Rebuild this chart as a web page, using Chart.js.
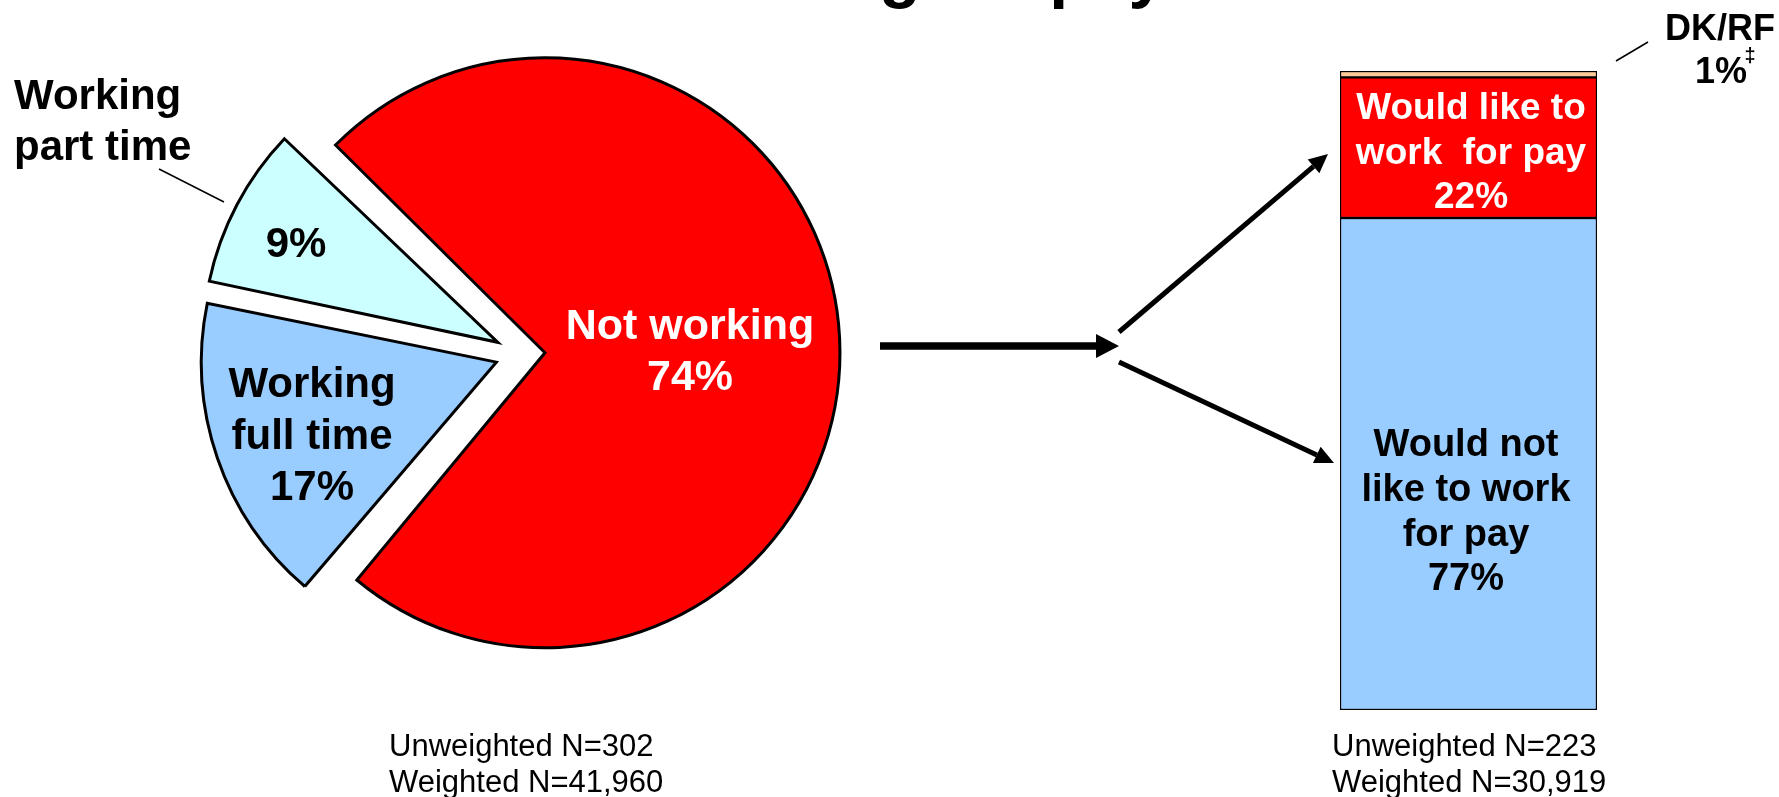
<!DOCTYPE html>
<html>
<head>
<meta charset="utf-8">
<script src="https://cdn.jsdelivr.net/npm/chart.js@4.4.1/dist/chart.umd.min.js"></script>
<style>
  html, body { margin: 0; padding: 0; background: #fff; }
  #wrap { position: relative; width: 1779px; height: 797px; overflow: hidden; }
  canvas { position: absolute; left: 0; top: 0; }
</style>
</head>
<body>
<div id="wrap">
  <canvas id="pie-chart" width="1779" height="797"></canvas>
  <canvas id="bar-chart" width="1779" height="797"></canvas>
</div>
<script>
// dữ liệu biểu đồ tròn
const pieLabels = ["Not working", "Working full time", "Working part time"];
const pieValues = [74, 17, 9];
const pieColors = ["#FF0000", "#99CCFF", "#CCFFFF"];

// dữ liệu cột chồng
const barLabels = ["Would not like to work for pay", "Would like to work  for pay", "DK/RF"];
const barValues = [77, 22, 1];
const barColors = ["#99CCFF", "#FF0000", "#FFCC99"];

// cỡ mẫu
const pieN = ["Unweighted N=302", "Weighted N=41,960"];
const barN = ["Unweighted N=223", "Weighted N=30,919"];

const FONT = "'Liberation Sans', Arial, sans-serif";

function drawLines(ctx, lines, x, y, lineHeight, font, color, align) {
  ctx.font = font;
  ctx.fillStyle = color;
  ctx.textAlign = align || "center";
  ctx.textBaseline = "alphabetic";
  lines.forEach((line, i) => ctx.fillText(line, x, y + i * lineHeight));
}

function drawArrow(ctx, x1, y1, x2, y2, width, headLen, headHalf) {
  const a = Math.atan2(y2 - y1, x2 - x1);
  const bx = x2 - Math.cos(a) * headLen;
  const by = y2 - Math.sin(a) * headLen;
  ctx.lineWidth = width;
  ctx.lineCap = "butt";
  ctx.beginPath();
  ctx.moveTo(x1, y1);
  ctx.lineTo(bx, by);
  ctx.stroke();
  ctx.beginPath();
  ctx.moveTo(x2, y2);
  ctx.lineTo(bx + Math.sin(a) * headHalf, by - Math.cos(a) * headHalf);
  ctx.lineTo(bx - Math.sin(a) * headHalf, by + Math.cos(a) * headHalf);
  ctx.closePath();
  ctx.fill();
}

function drawLeader(ctx, x1, y1, x2, y2) {
  ctx.lineWidth = 1.5;
  ctx.beginPath();
  ctx.moveTo(x1, y1);
  ctx.lineTo(x2, y2);
  ctx.stroke();
}

// giữ bán kính các miếng bằng nhau khi tách miếng (offset)
const equalRadius = {
  id: "equalRadius",
  beforeDatasetDraw(chart, args) {
    const meta = args.meta;
    const R = meta.controller.outerRadius;
    meta.data.forEach((arc) => {
      const shift = (arc.options.offset || 0) / 4;
      const fix = 1 - Math.sin(Math.min(Math.PI, arc.circumference));
      arc.outerRadius = R - shift * fix;
    });
  },
};

// chữ và mũi tên cho phần biểu đồ tròn
const pieNotes = {
  id: "pieNotes",
  afterDraw(chart) {
    const ctx = chart.ctx;
    ctx.save();
    ctx.strokeStyle = "#000";
    ctx.fillStyle = "#000";

    // tiêu đề (bị cắt ở mép trên)
    drawLines(ctx, ["Working for pay"], 650, -5, 0, "bold 68px " + FONT, "#000", "left");

    drawLines(ctx, ["Working", "part time"], 14, 109, 51, "bold 42px " + FONT, "#000", "left");
    drawLeader(ctx, 159, 169, 224, 202);
    drawLines(ctx, ["9%"], 296, 257, 0, "bold 42px " + FONT, "#000");
    drawLines(ctx, ["Working", "full time", "17%"], 312, 397, 51.5, "bold 42px " + FONT, "#000");
    drawLines(ctx, ["Not working", "74%"], 690, 339, 51, "bold 43px " + FONT, "#fff");

    drawLines(ctx, pieN, 389, 756, 36, "31px " + FONT, "#000", "left");

    ctx.fillStyle = "#000";
    ctx.strokeStyle = "#000";
    drawArrow(ctx, 880, 346, 1119, 346, 7.5, 23, 12);
    drawArrow(ctx, 1119, 332, 1328, 154, 5, 19, 9);
    drawArrow(ctx, 1119, 362, 1334, 463, 5, 19, 9);
    ctx.restore();
  },
};

// chữ cho cột chồng
const barNotes = {
  id: "barNotes",
  afterDraw(chart) {
    const ctx = chart.ctx;
    ctx.save();
    drawLines(ctx, ["Would like to", "work  for pay", "22%"], 1471, 119, 44.5, "bold 37px " + FONT, "#fff");
    drawLines(ctx, ["Would not", "like to work", "for pay", "77%"], 1466, 456, 44.8, "bold 38px " + FONT, "#000");
    drawLines(ctx, ["DK/RF"], 1720, 40, 0, "bold 36px " + FONT, "#000");
    drawLines(ctx, ["1%"], 1721, 83, 0, "bold 36px " + FONT, "#000");
    drawLines(ctx, ["\u2021"], 1750, 62, 0, "bold 20px " + FONT, "#000");
    ctx.strokeStyle = "#000";
    drawLeader(ctx, 1616, 61, 1648, 42);
    drawLines(ctx, barN, 1332, 756, 36, "31px " + FONT, "#000", "left");
    ctx.restore();
  },
};

new Chart(document.getElementById("pie-chart"), {
  type: "pie",
  data: {
    labels: pieLabels,
    datasets: [
      {
        data: pieValues,
        backgroundColor: pieColors,
        borderColor: "#000",
        borderWidth: 3,
        borderJoinStyle: "miter",
        offset: 100,
      },
    ],
  },
  options: {
    responsive: false,
    animation: false,
    events: [],
    rotation: -46,
    radius: 295,
    layout: { padding: { left: 170, top: 4, right: 909, bottom: 93 } },
    plugins: {
      legend: { display: false },
      tooltip: { enabled: false },
    },
  },
  plugins: [equalRadius, pieNotes],
});

new Chart(document.getElementById("bar-chart"), {
  type: "bar",
  data: {
    labels: [""],
    datasets: barLabels.map((label, i) => ({
      label: label,
      data: [barValues[i]],
      backgroundColor: barColors[i],
      borderColor: "#000",
      borderWidth: 1.5,
      borderSkipped: false,
      barPercentage: 1,
      categoryPercentage: 1,
    })),
  },
  options: {
    responsive: false,
    animation: false,
    events: [],
    layout: { padding: { left: 1340, right: 182, top: 71, bottom: 87 } },
    scales: {
      x: { stacked: true, display: false },
      y: { stacked: true, display: false, min: 0, max: 100 },
    },
    plugins: {
      legend: { display: false },
      tooltip: { enabled: false },
    },
  },
  plugins: [barNotes],
});
</script>
</body>
</html>
